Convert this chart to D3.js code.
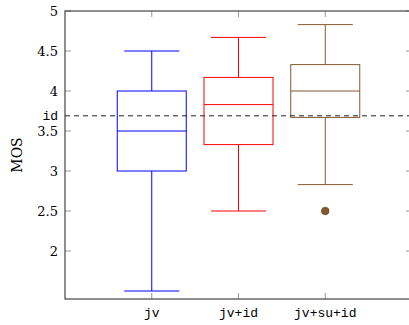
<!DOCTYPE html>
<html>
<head>
<meta charset="utf-8">
<script src="https://cdn.jsdelivr.net/npm/d3@7"></script>
<style>
body { margin: 0; background: #fff; }
svg { display: block; }
.num { font-family: "DejaVu Serif", "Liberation Serif", serif; font-size: 13px; }
.tt { font-family: "Liberation Mono", "DejaVu Sans Mono", monospace; font-size: 13px; }
</style>
</head>
<body>
<div id="chart"></div>
<script>
// chart values
var categories = ["jv", "jv+id", "jv+su+id"];
var colors = ["#0000ff", "#ff0000", "#85592f"];
var whiskerLow = [1.5, 2.5, 2.83];
var q1 = [3.0, 3.33, 3.67];
var median = [3.5, 3.83, 4.0];
var q3 = [4.0, 4.17, 4.33];
var whiskerHigh = [4.5, 4.67, 4.83];
var outliers = [[], [], [2.5]];
var yTicks = [2, 2.5, 3, 3.5, 4, 4.5, 5];
var idLevel = 3.69;

var W = 409, H = 325;
var margin = {top: 11, right: -3, bottom: 26, left: 65};

var svg = d3.select("#chart").append("svg")
    .attr("width", W).attr("height", H);

var x = d3.scaleLinear().domain([0, 4]).range([margin.left, W - margin.right]);
var y = d3.scaleLinear().domain([1.4, 5]).range([H - margin.bottom, margin.top]);

var boxW = 69, capW = 55;

// ticks (inside the axis box)
var g = svg.append("g");
yTicks.forEach(function(t) {
    g.append("line").attr("x1", x(0)).attr("x2", x(0) + 6)
	.attr("y1", y(t)).attr("y2", y(t)).attr("stroke", "#999");
    g.append("line").attr("x1", x(4)).attr("x2", x(4) - 6)
	.attr("y1", y(t)).attr("y2", y(t)).attr("stroke", "#999");
    g.append("text").attr("class", "num")
	.attr("x", 58).attr("y", y(t)).attr("dy", "0.35em")
	.attr("text-anchor", "end").text(d3.format("")(t));
});
categories.forEach(function(c, i) {
    g.append("line").attr("x1", x(i + 1)).attr("x2", x(i + 1))
	.attr("y1", y(1.4)).attr("y2", y(1.4) - 6).attr("stroke", "#999");
    g.append("line").attr("x1", x(i + 1)).attr("x2", x(i + 1))
	.attr("y1", y(5)).attr("y2", y(5) + 6).attr("stroke", "#999");
    g.append("text").attr("class", "tt")
	.attr("x", x(i + 1)).attr("y", y(1.4) + 18)
	.attr("text-anchor", "middle").text(c);
});

// extra "id" label
g.append("text").attr("class", "tt")
    .attr("x", 58).attr("y", y(idLevel)).attr("dy", "0.3em")
    .attr("text-anchor", "end").text("id");

// axis label
svg.append("text").attr("class", "num")
    .attr("transform", "translate(22," + y(3.2) + ") rotate(-90)")
    .attr("text-anchor", "middle").style("font-size", "14px").text("MOS");

// boxes
var boxes = svg.append("g");
categories.forEach(function(c, i) {
    var cx = x(i + 1), col = colors[i];
    var b = boxes.append("g").attr("stroke", col).attr("fill", "none");
    b.append("line").attr("x1", cx).attr("x2", cx)
	.attr("y1", y(q3[i])).attr("y2", y(whiskerHigh[i]));
    b.append("line").attr("x1", cx).attr("x2", cx)
	.attr("y1", y(q1[i])).attr("y2", y(whiskerLow[i]));
    b.append("line").attr("x1", cx - capW / 2).attr("x2", cx + capW / 2)
	.attr("y1", y(whiskerHigh[i])).attr("y2", y(whiskerHigh[i]));
    b.append("line").attr("x1", cx - capW / 2).attr("x2", cx + capW / 2)
	.attr("y1", y(whiskerLow[i])).attr("y2", y(whiskerLow[i]));
    b.append("rect").attr("x", cx - boxW / 2).attr("width", boxW)
	.attr("y", y(q3[i])).attr("height", y(q1[i]) - y(q3[i]));
    b.append("line").attr("x1", cx - boxW / 2).attr("x2", cx + boxW / 2)
	.attr("y1", y(median[i])).attr("y2", y(median[i]));
    outliers[i].forEach(function(o) {
	boxes.append("circle").attr("cx", cx).attr("cy", y(o)).attr("r", 3.8)
	    .attr("fill", col).attr("stroke", "#5a3a1a").attr("stroke-width", 0.6);
    });
});

// dashed reference line
svg.append("line").attr("x1", x(0)).attr("x2", W)
    .attr("y1", y(idLevel)).attr("y2", y(idLevel))
    .attr("stroke", "#222").attr("stroke-dasharray", "5,4");

// axis box
svg.append("rect").attr("x", x(0)).attr("y", y(5))
    .attr("width", x(4) - x(0)).attr("height", y(1.4) - y(5))
    .attr("fill", "none").attr("stroke", "#444").attr("stroke-width", 1.2);
</script>
</body>
</html>
